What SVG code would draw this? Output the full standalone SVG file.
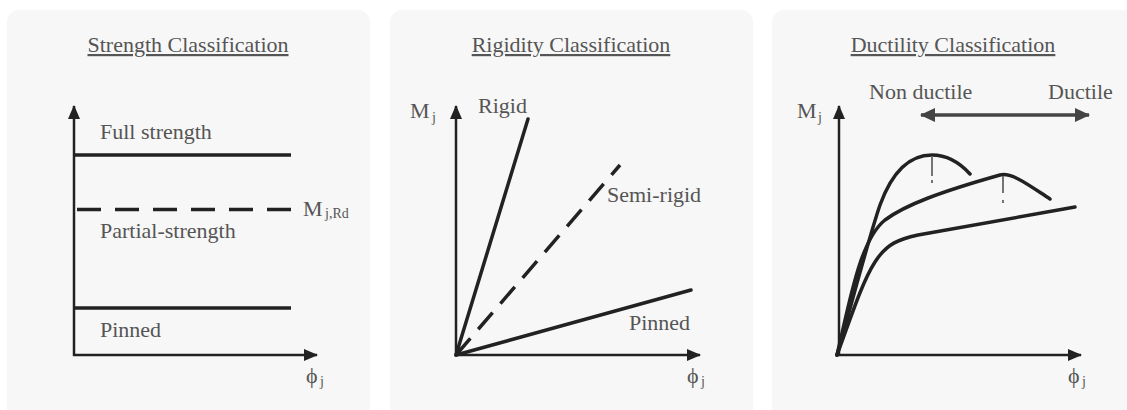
<svg xmlns="http://www.w3.org/2000/svg" width="1127" height="410" viewBox="0 0 1127 410">
<defs>
<style>
.panel{fill:#f7f7f7}
.t{font-family:"Liberation Serif","Times New Roman",serif;font-size:22px;fill:#555}
.title{text-decoration:underline;text-anchor:middle}
.sub{font-size:14px}
.axis{stroke:#222;stroke-width:2.5;fill:none}
.ln{stroke:#222;stroke-width:3.5;fill:none;stroke-linecap:round}
.dash{stroke-dasharray:24 14;stroke-linecap:butt}
.pk{stroke:#666;stroke-width:1.8;fill:none;stroke-dasharray:20 4 3 20}
</style>
<marker id="ah" viewBox="0 0 14 12" refX="13" refY="6" markerWidth="14" markerHeight="12" markerUnits="userSpaceOnUse" orient="auto">
<path d="M0,0 L14,6 L0,12 Z" fill="#222"/>
</marker>
<marker id="ah2" viewBox="0 0 15 14" refX="14" refY="7" markerWidth="15" markerHeight="14" markerUnits="userSpaceOnUse" orient="auto-start-reverse">
<path d="M0,0 L15,7 L0,14 Z" fill="#444"/>
</marker>
</defs>
<rect width="1127" height="410" fill="#ffffff"/>

<g id="panel-strength">
<rect class="panel" x="7" y="10" width="363" height="420" rx="12"/>
<text class="t title" x="188" y="52">Strength Classification</text>
<path class="axis" d="M74,356 V106" marker-end="url(#ah)"/>
<path class="axis" d="M73,355 H317" marker-end="url(#ah)"/>
<line class="ln" x1="74" y1="155" x2="291" y2="155" style="stroke-linecap:butt"/>
<line class="ln dash" x1="77" y1="209.5" x2="291" y2="209.5"/>
<line class="ln" x1="74" y1="308" x2="291" y2="308" style="stroke-linecap:butt"/>
<text class="t" x="100" y="139">Full strength</text>
<text class="t" x="100" y="238">Partial-strength</text>
<text class="t" x="100" y="337">Pinned</text>
<text class="t" x="303" y="216">M<tspan class="sub" x="325" dy="2">j,Rd</tspan></text>
<text class="t" x="306" y="383">ϕ<tspan class="sub" x="320" dy="3">j</tspan></text>
</g>

<g id="panel-rigidity">
<rect class="panel" x="390" y="10" width="363" height="420" rx="12"/>
<text class="t title" x="571" y="52">Rigidity Classification</text>
<path class="axis" d="M456,356 V106" marker-end="url(#ah)"/>
<path class="axis" d="M455,355 H700" marker-end="url(#ah)"/>
<line class="ln" x1="456" y1="355" x2="528" y2="119"/>
<line class="ln dash" x1="456" y1="355" x2="620" y2="165" style="stroke-dasharray:22 12"/>
<line class="ln" x1="456" y1="355" x2="691" y2="290"/>
<text class="t" x="410" y="118">M<tspan class="sub" x="432" dy="4">j</tspan></text>
<text class="t" x="478" y="113">Rigid</text>
<text class="t" x="607" y="202">Semi-rigid</text>
<text class="t" x="629" y="330">Pinned</text>
<text class="t" x="687" y="383">ϕ<tspan class="sub" x="701" dy="3">j</tspan></text>
</g>

<g id="panel-ductility">
<rect class="panel" x="772" y="10" width="370" height="420" rx="12"/>
<text class="t title" x="953" y="52">Ductility Classification</text>
<path class="axis" d="M839,356 V106" marker-end="url(#ah)"/>
<path class="axis" d="M838,355 H1081" marker-end="url(#ah)"/>
<path class="ln" d="M837,355 C850,310 868,240 880,205 C892,172 910,155 932,155 C948,155 960,163 970,174"/>
<path class="ln" d="M837,355 C850,300 860,240 885,220 C905,205 940,192 1000,175 C1012,172 1030,186 1050,199"/>
<path class="ln" d="M837,355 C850,320 862,282 875,262 C887,243 900,239 918,235 L1075,207"/>
<line class="pk" x1="932" y1="156" x2="932" y2="185"/>
<line class="pk" x1="1003" y1="176" x2="1003" y2="205" style="stroke-dasharray:17 7 3 20"/>
<line x1="921" y1="115" x2="1089" y2="115" stroke="#444" stroke-width="3.5" marker-start="url(#ah2)" marker-end="url(#ah2)"/>
<text class="t" x="797" y="118">M<tspan class="sub" x="818" dy="4">j</tspan></text>
<text class="t" x="869" y="99">Non ductile</text>
<text class="t" x="1048" y="99">Ductile</text>
<text class="t" x="1068" y="383">ϕ<tspan class="sub" x="1082" dy="3">j</tspan></text>
</g>
</svg>
